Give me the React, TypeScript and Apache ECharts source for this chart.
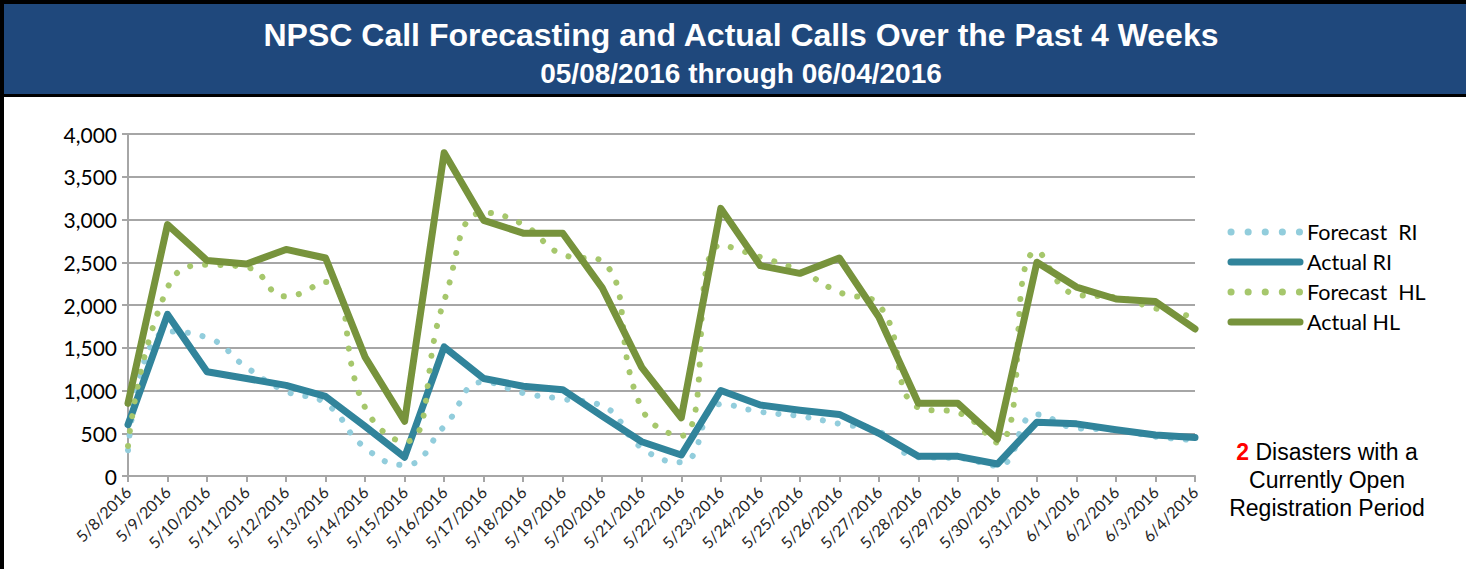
import React, { useEffect, useRef } from "react";
import * as echarts from "echarts";

const dates = [
  "5/8/2016", "5/9/2016", "5/10/2016", "5/11/2016", "5/12/2016", "5/13/2016", "5/14/2016",
  "5/15/2016", "5/16/2016", "5/17/2016", "5/18/2016", "5/19/2016", "5/20/2016", "5/21/2016",
  "5/22/2016", "5/23/2016", "5/24/2016", "5/25/2016", "5/26/2016", "5/27/2016", "5/28/2016",
  "5/29/2016", "5/30/2016", "5/31/2016", "6/1/2016", "6/2/2016", "6/3/2016", "6/4/2016",
];
const forecastRI = [300, 1690, 1620, 1270, 990, 850, 330, 130, 580, 1100, 970, 900, 820, 330, 160, 840, 750, 700, 610, 520, 220, 210, 120, 720, 560, 540, 460, 420];
const actualRI = [600, 1890, 1220, 1140, 1060, 930, 580, 220, 1510, 1140, 1050, 1010, 700, 400, 245, 1000, 830, 770, 720, 500, 230, 230, 140, 630, 610, 540, 480, 450];
const forecastHL = [350, 2200, 2470, 2440, 2100, 2270, 800, 400, 2050, 3080, 2940, 2590, 2510, 790, 470, 2700, 2560, 2400, 2150, 2000, 800, 740, 390, 2630, 2120, 2090, 1960, 1860];
const actualHL = [850, 2940, 2520, 2480, 2650, 2550, 1390, 640, 3780, 2990, 2840, 2840, 2200, 1270, 680, 3130, 2460, 2370, 2550, 1860, 850, 850, 430, 2500, 2210, 2070, 2040, 1720];

const titleText = "NPSC Call Forecasting and Actual Calls Over the Past 4 Weeks";
const subtitleText = "05/08/2016 through 06/04/2016";
const seriesNames = ["Forecast  RI", "Actual RI", "Forecast  HL", "Actual HL"];
const seriesColors = ["#92CDDC", "#31849B", "#A6C76C", "#77933C"];

export default function App() {
  const ref = useRef<HTMLDivElement>(null);
  useEffect(() => {
    if (!ref.current) return;
    const chart = echarts.init(ref.current, null, { renderer: "svg" });
    const dotted = (color: string) => ({
      color,
      width: 6,
      type: [0.1, 15] as any,
      cap: "round" as any,
    });
    const solid = (color: string) => ({
      color,
      width: 7,
      cap: "round" as any,
      join: "round" as any,
    });
    const seriesData = [forecastRI, actualRI, forecastHL, actualHL];
    const series = seriesData.map((d, i) => ({
      name: seriesNames[i],
      type: "line",
      data: d,
      symbol: "none",
      smooth: i % 2 === 0 ? 0.5 : false,
      lineStyle: i % 2 === 0 ? dotted(seriesColors[i]) : solid(seriesColors[i]),
      itemStyle: { color: seriesColors[i] },
      z: 2 + i,
    }));

    const legendY = [232, 262, 292, 322];
    const legendGraphics: any[] = [];
    seriesNames.forEach((n, i) => {
      const isDot = i % 2 === 0;
      legendGraphics.push({
        type: "line",
        shape: { x1: 1231, y1: legendY[i], x2: 1300, y2: legendY[i] },
        style: {
          stroke: seriesColors[i],
          lineWidth: 7,
          lineCap: "round",
          lineDash: isDot ? [0.1, 17] : null,
        },
      });
      legendGraphics.push({
        type: "text",
        x: 1307,
        y: legendY[i],
        style: {
          text: n,
          font: "21.5px Lato, 'Noto Sans', sans-serif",
          fill: "#000",
          align: "left",
          verticalAlign: "middle",
        },
      });
    });

    chart.setOption({
      animation: false,
      backgroundColor: "#fff",
      grid: { left: 128, right: 271, top: 134, bottom: 93, containLabel: false },
      xAxis: {
        type: "category",
        data: dates,
        boundaryGap: false,
        axisLine: { lineStyle: { color: "#A6A6A6", width: 2 } },
        axisTick: { show: true, length: 6, alignWithLabel: true, lineStyle: { color: "#A6A6A6", width: 2 } },
        axisLabel: {
          rotate: 45,
          interval: 0,
          margin: 13,
          color: "#262626",
          fontSize: 16,
          fontFamily: "Lato, 'Noto Sans', sans-serif",
        },
      },
      yAxis: {
        type: "value",
        min: 0,
        max: 4000,
        interval: 500,
        axisLine: { show: true, lineStyle: { color: "#A6A6A6", width: 2 } },
        axisTick: { show: true, length: 6, lineStyle: { color: "#A6A6A6", width: 2 } },
        splitLine: { lineStyle: { color: "#A6A6A6", width: 2 } },
        axisLabel: {
          margin: 11,
          color: "#000",
          fontSize: 21,
          fontFamily: "Lato, 'Noto Sans', sans-serif",
          formatter: (v: number) => v.toLocaleString("en-US"),
        },
      },
      series,
      graphic: [
        { type: "rect", shape: { x: 0, y: 0, width: 1466, height: 97 }, style: { fill: "#000" }, z: 0 },
        { type: "rect", shape: { x: 4, y: 4, width: 1462, height: 90 }, style: { fill: "#1F487C" }, z: 1 },
        { type: "rect", shape: { x: 0, y: 0, width: 4, height: 569 }, style: { fill: "#000" }, z: 1 },
        {
          type: "text",
          x: 741,
          y: 35,
          z: 2,
          style: {
            text: titleText,
            font: "bold 32px 'Liberation Sans', Arial, sans-serif",
            fill: "#fff",
            align: "center",
            verticalAlign: "middle",
          },
        },
        {
          type: "text",
          x: 741,
          y: 73,
          z: 2,
          style: {
            text: subtitleText,
            font: "bold 28px 'Liberation Sans', Arial, sans-serif",
            fill: "#fff",
            align: "center",
            verticalAlign: "middle",
          },
        },
        ...legendGraphics,
        {
          type: "text",
          x: 1327,
          y: 480,
          style: {
            text: "{r|2} Disasters with a\nCurrently Open\nRegistration Period",
            font: "23px 'Liberation Sans', Arial, sans-serif",
            fill: "#000",
            align: "center",
            verticalAlign: "middle",
            lineHeight: 28,
            rich: {
              r: {
                fill: "#FF0000",
                fontWeight: "bold",
                fontSize: 23,
                fontFamily: "'Liberation Sans', Arial, sans-serif",
                lineHeight: 28,
              },
            },
          },
        },
      ],
    });
    return () => chart.dispose();
  }, []);
  return (
    <div
      ref={ref}
      style={{ position: "fixed", left: 0, top: 0, width: 1466, height: 569, background: "#fff" }}
    />
  );
}
